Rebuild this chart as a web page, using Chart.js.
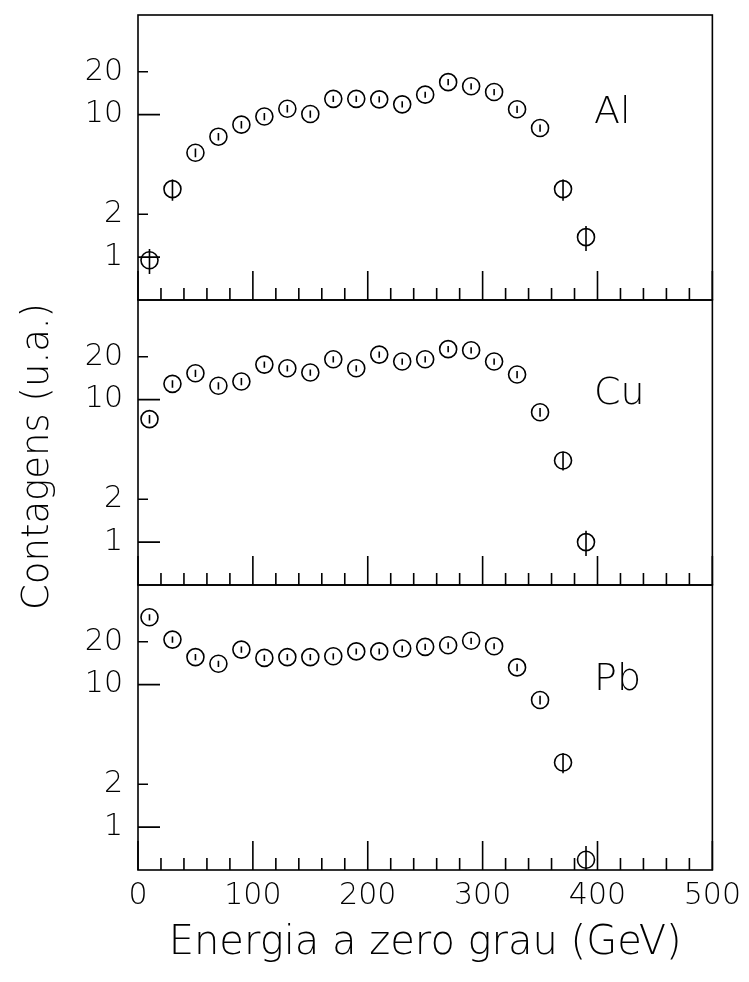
<!DOCTYPE html>
<html>
<head>
<meta charset="utf-8">
<script src="https://cdn.jsdelivr.net/npm/chart.js@4.4.1/dist/chart.umd.min.js"></script>
<style>
html,body{margin:0;padding:0;background:#fff;}
#wrap{position:relative;width:749px;height:982px;}
</style>
</head>
<body>
<div id="wrap"><canvas id="c" width="749" height="982"></canvas></div>
<script>
// ---- data ----
const energies = [10,30,50,70,90,110,130,150,170,190,210,230,250,270,290,310,330,350,370,390];
const alCounts = [0.95,3.0,5.4,7.0,8.5,9.7,11.0,10.1,12.9,12.9,12.8,11.8,13.8,16.9,15.8,14.4,10.9,8.05,3.0,1.38];
const cuCounts = [7.3,12.9,15.3,12.5,13.4,17.6,16.6,15.5,19.2,16.6,20.7,18.5,19.2,22.6,22.2,18.5,15.0,8.15,3.74,1.0];
const pbCounts = [29.7,20.7,15.6,14.0,17.6,15.4,15.6,15.6,15.8,17.1,17.1,17.9,18.4,18.9,20.3,18.6,13.2,7.8,2.84,0.59];
// relative errors (stem half-lengths)
const alErr = [0.20,0.17,0.07,0.06,0.06,0.06,0.06,0.06,0.05,0.05,0.05,0.05,0.05,0.05,0.05,0.05,0.06,0.06,0.17,0.20];
const cuErr = [0.07,0.06,0.06,0.06,0.06,0.05,0.05,0.05,0.05,0.05,0.05,0.05,0.05,0.05,0.05,0.05,0.06,0.07,0.15,0.20];
const pbErr = [0.05,0.05,0.05,0.05,0.05,0.05,0.05,0.05,0.05,0.05,0.05,0.05,0.05,0.05,0.05,0.05,0.06,0.07,0.16,0.25];
const panelNames = ['Al','Cu','Pb'];
const panelLabelY = [10.2, 10.9, 10.7];
const panelLabelX = 397;
const yTickValues = [1,2,10,20];
const yMajorTicks = [1,10];
const xTickValues = [0,100,200,300,400,500];
const xMinorStep = 20;
const xTitle = 'Energia a zero grau (GeV)';
const yTitle = 'Contagens (u.a.)';

const FONT = 'DejaVu Sans';
const axisIds = ['yAl','yCu','yPb'];
const countsList = [alCounts, cuCounts, pbCounts];
const errList = [alErr, cuErr, pbErr];

const datasets = countsList.map((arr, k) => ({
  label: panelNames[k],
  yAxisID: axisIds[k],
  data: energies.map((e, i) => ({x: e, y: arr[i]})),
  errors: errList[k],
  showLine: false,
  pointStyle: 'circle',
  pointRadius: 8.5,
  pointHoverRadius: 8.5,
  pointBorderWidth: 1.6,
  pointBorderColor: '#000',
  pointBackgroundColor: 'rgba(0,0,0,0)'
}));

function yAxis(){
  return {
    type: 'logarithmic',
    position: 'left',
    stack: 'panels',
    stackWeight: 1,
    min: 0.5,
    max: 50,
    grid: {display: false, drawTicks: false},
    border: {display: false},
    afterBuildTicks: s => { s.ticks = yTickValues.map(v => ({value: v})); },
    afterFit: s => { s.width = 138; s.paddingTop = 0; s.paddingBottom = 0; },
    ticks: {
      color: '#000',
      padding: 15,
      font: {family: FONT, size: 30, weight: 200},
      callback: v => String(v)
    }
  };
}

const framePlugin = {
  id: 'frame',
  afterDatasetsDraw(chart){
    const ctx = chart.ctx;
    const xs = chart.scales.x;
    ctx.save();
    // error stems
    chart.data.datasets.forEach((ds, k) => {
      const meta = chart.getDatasetMeta(k);
      const ys = chart.scales[ds.yAxisID];
      ctx.save();
      ctx.beginPath();
      ctx.rect(xs.left, ys.top, xs.right - xs.left, ys.bottom - ys.top);
      ctx.clip();
      ctx.strokeStyle = '#000';
      ctx.lineWidth = 1.6;
      ds.data.forEach((p, i) => {
        const e = ds.errors[i];
        const px = meta.data[i].x;
        const y1 = ys.getPixelForValue(p.y * (1 + e));
        const y2 = ys.getPixelForValue(p.y * (1 - e));
        ctx.beginPath();
        ctx.moveTo(px, y1);
        ctx.lineTo(px, y2);
        ctx.stroke();
      });
      ctx.restore();
    });
    // frames and ticks
    ctx.strokeStyle = '#000';
    ctx.lineWidth = 1.6;
    axisIds.forEach((id, k) => {
      const ys = chart.scales[id];
      ctx.strokeRect(xs.left, ys.top, xs.right - xs.left, ys.bottom - ys.top);
      ctx.beginPath();
      for (let v = xs.min; v <= xs.max; v += xMinorStep) {
        const px = xs.getPixelForValue(v);
        const len = xTickValues.includes(v) ? 29 : 12;
        ctx.moveTo(px, ys.bottom);
        ctx.lineTo(px, ys.bottom - len);
      }
      yTickValues.forEach(v => {
        const py = ys.getPixelForValue(v);
        const len = yMajorTicks.includes(v) ? 22 : 10;
        ctx.moveTo(xs.left, py);
        ctx.lineTo(xs.left + len, py);
      });
      ctx.stroke();
      // panel label
      ctx.fillStyle = '#000';
      ctx.font = '200 38px "' + FONT + '"';
      ctx.textAlign = 'left';
      ctx.textBaseline = 'middle';
      ctx.fillText(panelNames[k], xs.getPixelForValue(panelLabelX), ys.getPixelForValue(panelLabelY[k]));
    });
    // y title
    const ca = chart.chartArea;
    ctx.save();
    ctx.translate(38, (ca.top + ca.bottom) / 2 + 14);
    ctx.rotate(-Math.PI / 2);
    ctx.font = '200 37px "' + FONT + '"';
    ctx.textAlign = 'center';
    ctx.textBaseline = 'middle';
    ctx.fillText(yTitle, 0, 0);
    ctx.restore();
    ctx.restore();
  }
};

new Chart(document.getElementById('c'), {
  type: 'scatter',
  data: {datasets},
  options: {
    responsive: false,
    animation: false,
    events: [],
    layout: {padding: {top: 15, right: 32, left: 0, bottom: 0}},
    plugins: {legend: {display: false}, tooltip: {enabled: false}},
    scales: {
      x: {
        type: 'linear',
        position: 'bottom',
        min: 0,
        max: 500,
        grid: {display: false, drawTicks: false},
        border: {display: false},
        afterBuildTicks: s => { s.ticks = xTickValues.map(v => ({value: v})); },
        afterFit: s => { s.height = 112; },
        ticks: {
          color: '#000',
          padding: 8,
          maxRotation: 0,
          font: {family: FONT, size: 30, weight: 200},
          callback: v => String(v)
        },
        title: {
          display: true,
          text: xTitle,
          color: '#000',
          font: {family: FONT, size: 40, weight: 200},
          padding: {top: 0, bottom: 14}
        }
      },
      yPb: yAxis(),
      yCu: yAxis(),
      yAl: yAxis()
    }
  },
  plugins: [framePlugin]
});
</script>
</body>
</html>
